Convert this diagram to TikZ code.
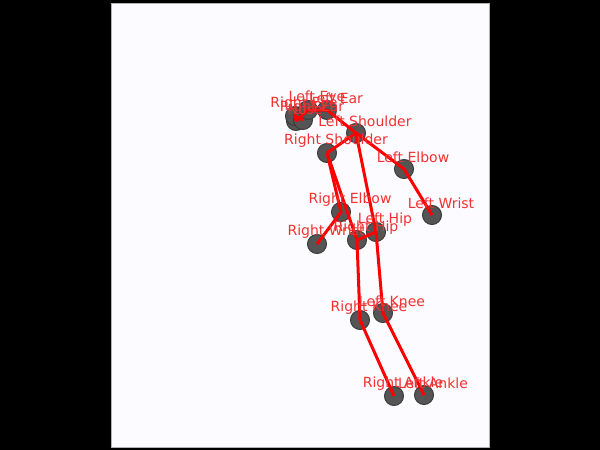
\documentclass[tikz,border=0pt]{standalone}
\usepackage{fontspec}
\setmainfont{DejaVu Sans}
\definecolor{panel}{RGB}{252,251,255}
\definecolor{jointgray}{RGB}{85,85,85}
\definecolor{jointedge}{RGB}{60,60,60}
\definecolor{bonered}{RGB}{255,0,0}
\definecolor{labelred}{RGB}{242,50,50}
\tikzset{
  joint/.style={circle, fill=jointgray, draw=jointedge, line width=1pt, minimum size=19pt, inner sep=0pt},
  bone/.style={bonered, line width=3pt},
  jointlabel/.style={text=labelred, font=\fontsize{14}{14}\selectfont, inner sep=0pt, anchor=center}
}
\begin{document}
\begin{tikzpicture}[x=1pt, y=-1pt]
    % frame
    \fill[black] (0,0) rectangle (600,450);
    \fill[panel] (111,3) rectangle (489,447);
    \draw[gray!60, line width=0.5pt] (111,3) rectangle (489,447);
    % joints
    \node[joint] (nose) at (296,121) {};
    \node[joint] (reye) at (295,116) {};
    \node[joint] (rear) at (303,120) {};
    \node[joint] (leye) at (308,110) {};
    \node[joint] (lear) at (327,110) {};
    \node[joint] (lsho) at (356,133) {};
    \node[joint] (rsho) at (327,153) {};
    \node[joint] (lelb) at (404,169) {};
    \node[joint] (lwri) at (432,215) {};
    \node[joint] (relb) at (341,212) {};
    \node[joint] (rwri) at (317,244) {};
    \node[joint] (lhip) at (376,232) {};
    \node[joint] (rhip) at (357,240) {};
    \node[joint] (lkne) at (383,313) {};
    \node[joint] (rkne) at (360,320) {};
    \node[joint] (lank) at (424,395) {};
    \node[joint] (rank) at (394,396) {};
    % bones
    \draw[bone] (nose.center) -- (leye.center) -- (lear.center) -- (lsho.center);
    \draw[bone] (nose.center) -- (reye.center) -- (rear.center);
    \draw[bone] (lsho.center) -- (rsho.center);
    \draw[bone] (lsho.center) -- (lelb.center) -- (lwri.center);
    \draw[bone] (rsho.center) -- (relb.center) -- (rwri.center);
    \draw[bone] (lsho.center) -- (lhip.center);
    \draw[bone] (rsho.center) -- (rhip.center);
    \draw[bone] (lhip.center) -- (rhip.center);
    \draw[bone] (lhip.center) -- (lkne.center) -- (lank.center);
    \draw[bone] (rhip.center) -- (rkne.center) -- (rank.center);
    % labels
    \node[jointlabel] at ([shift={(9,-12)}]nose.center) {Nose};
    \node[jointlabel] at ([shift={(9,-12)}]leye.center) {Left Eye};
    \node[jointlabel] at ([shift={(9,-12)}]reye.center) {Right Eye};
    \node[jointlabel] at ([shift={(9,-12)}]lear.center) {Left Ear};
    \node[jointlabel] at ([shift={(9,-12)}]rear.center) {Right Ear};
    \node[jointlabel] at ([shift={(9,-12)}]lsho.center) {Left Shoulder};
    \node[jointlabel] at ([shift={(9,-12)}]rsho.center) {Right Shoulder};
    \node[jointlabel] at ([shift={(9,-12)}]lelb.center) {Left Elbow};
    \node[jointlabel] at ([shift={(9,-12)}]lwri.center) {Left Wrist};
    \node[jointlabel] at ([shift={(9,-12)}]relb.center) {Right Elbow};
    \node[jointlabel] at ([shift={(9,-12)}]rwri.center) {Right Wrist};
    \node[jointlabel] at ([shift={(9,-12)}]lhip.center) {Left Hip};
    \node[jointlabel] at ([shift={(9,-12)}]rhip.center) {Right Hip};
    \node[jointlabel] at ([shift={(9,-12)}]lkne.center) {Left Knee};
    \node[jointlabel] at ([shift={(9,-12)}]rkne.center) {Right Knee};
    \node[jointlabel] at ([shift={(9,-12)}]lank.center) {Left Ankle};
    \node[jointlabel] at ([shift={(9,-12)}]rank.center) {Right Ankle};
\end{tikzpicture}
\end{document}
